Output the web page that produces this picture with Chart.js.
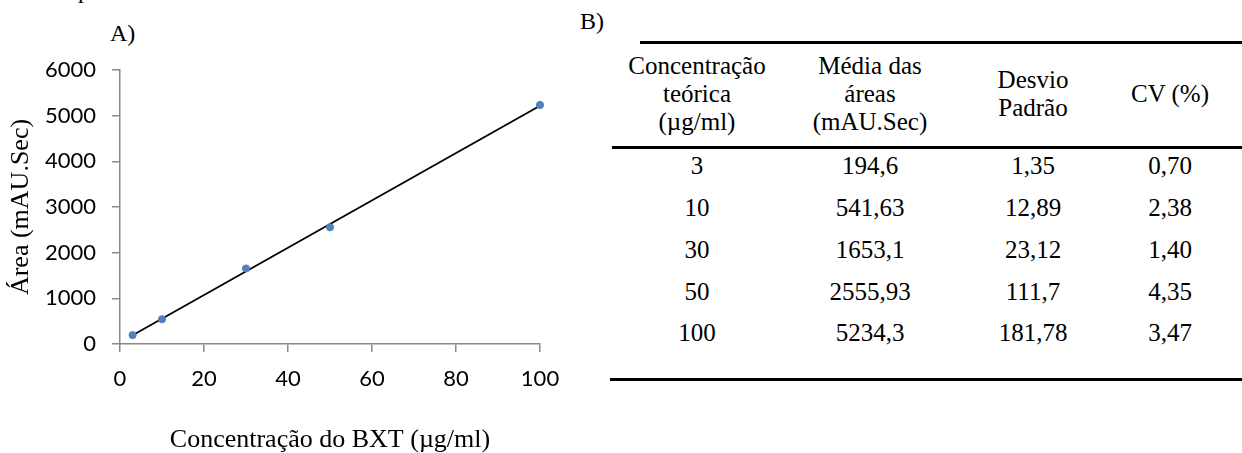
<!DOCTYPE html>
<html>
<head>
<meta charset="utf-8">
<script src="https://cdn.jsdelivr.net/npm/chart.js@4.4.1/dist/chart.umd.min.js"></script>
<style>
  html, body { margin: 0; padding: 0; background: #fff; }
  body { width: 1242px; height: 453px; position: relative; overflow: hidden; }
  #plot { position: absolute; left: 0; top: 0; }
  .serif { font-family: "Liberation Serif", "Times New Roman", serif; color: #000; position: absolute; white-space: nowrap; }
  .cell { transform: translate(-50%, -50%); text-align: center; line-height: 28px; font-size: 25px; }
  .rule { position: absolute; height: 3px; background: #000; }
</style>
</head>
<body>
<div class="serif" style="left:78px; top:-22px; font-size:24px; line-height:24px;">p</div>
<div class="serif" style="left:110px; top:20px; font-size:24px; line-height:26px;">A)</div>
<div class="serif" style="left:580px; top:8px; font-size:24px; line-height:26px;">B)</div>
<canvas id="plot" width="580" height="453"></canvas>
<div id="table"></div>
<script>
// Calibration curve: theoretical concentration (µg/ml) vs mean peak area (mAU.Sec)
const concentrations = [3, 10, 30, 50, 100];
const meanAreas = [194.6, 541.63, 1653.1, 2555.93, 5234.3];
const stdDevs = ['1,35', '12,89', '23,12', '111,7', '181,78'];
const cvPercent = ['0,70', '2,38', '1,40', '4,35', '3,47'];
const areaLabels = ['194,6', '541,63', '1653,1', '2555,93', '5234,3'];
const concLabels = ['3', '10', '30', '50', '100'];
const xTicks = [0, 20, 40, 60, 80, 100];
const yTicks = [0, 1000, 2000, 3000, 4000, 5000, 6000];
const headers = [
  ['Concentração', 'teórica', '(µg/ml)'],
  ['Média das', 'áreas', '(mAU.Sec)'],
  ['Desvio', 'Padrão'],
  ['CV (%)']
];

// least-squares linear trendline through the measured points
function linearFit(xs, ys) {
  const n = xs.length;
  const mx = xs.reduce((a, b) => a + b, 0) / n;
  const my = ys.reduce((a, b) => a + b, 0) / n;
  let sxy = 0, sxx = 0;
  for (let i = 0; i < n; i++) { sxy += (xs[i] - mx) * (ys[i] - my); sxx += (xs[i] - mx) ** 2; }
  const slope = sxy / sxx;
  return { slope, intercept: my - slope * mx };
}
const fit = linearFit(concentrations, meanAreas);
const xMin = concentrations[0], xMax = concentrations[concentrations.length - 1];
const trend = [
  { x: xMin, y: fit.intercept + fit.slope * xMin },
  { x: xMax, y: fit.intercept + fit.slope * xMax }
];
const points = concentrations.map((c, i) => ({ x: c, y: meanAreas[i] }));

const axisGrey = '#898989';
const tickFont = { family: 'Lato, "Open Sans", sans-serif', size: 22 };
const titleFont = { family: '"Liberation Serif", "Times New Roman", serif', size: 26, lineHeight: 1 };
const plainNumber = v => String(v);

new Chart(document.getElementById('plot'), {
  type: 'scatter',
  data: {
    datasets: [
      {
        type: 'line', data: trend, borderColor: '#000', borderWidth: 1.8,
        pointRadius: 0, fill: false, order: 2, clip: false
      },
      {
        data: points, backgroundColor: '#4F81BD', borderColor: '#4F81BD',
        pointRadius: 3.6, pointHoverRadius: 3.6, order: 1, clip: false
      }
    ]
  },
  options: {
    responsive: false,
    animation: false,
    events: [],
    layout: { padding: { left: 0, right: 40, top: 70, bottom: 0 } },
    plugins: { legend: { display: false }, tooltip: { enabled: false } },
    scales: {
      x: {
        type: 'linear', min: 0, max: 100,
        afterBuildTicks: s => { s.ticks = xTicks.map(v => ({ value: v })); },
        afterFit: s => { s.height = 109; },
        ticks: { color: '#000', font: tickFont, padding: 14, maxRotation: 0, callback: plainNumber },
        grid: { drawOnChartArea: false, drawTicks: true, tickLength: 8, color: axisGrey, lineWidth: 1.5 },
        border: { display: true, color: axisGrey, width: 1.5 },
        title: { display: true, text: 'Concentração do BXT (µg/ml)', color: '#000', font: titleFont, padding: { top: 0, bottom: 0 } }
      },
      y: {
        type: 'linear', min: 0, max: 6000,
        afterBuildTicks: s => { s.ticks = yTicks.map(v => ({ value: v })); },
        afterFit: s => { s.width = 120; },
        ticks: { color: '#000', font: tickFont, padding: 16, callback: plainNumber },
        grid: { drawOnChartArea: false, drawTicks: true, tickLength: 8, color: axisGrey, lineWidth: 1.5 },
        border: { display: true, color: axisGrey, width: 1.5 },
        title: { display: true, text: 'Área (mAU.Sec)', color: '#000', font: titleFont, padding: { top: 8, bottom: 0 } }
      }
    }
  }
});

// Table B: precision data laid out as centred cells between horizontal rules
const table = document.getElementById('table');
const colCenters = [697, 870, 1033, 1170];
const headerCenterY = 94;
const rowY = [166, 208, 250, 292, 333];
function addCell(text, cx, cy, lines) {
  const d = document.createElement('div');
  d.className = 'serif cell';
  d.style.left = cx + 'px';
  d.style.top = cy + 'px';
  d.innerHTML = lines ? lines.join('<br>') : text;
  table.appendChild(d);
}
headers.forEach((h, i) => addCell(null, colCenters[i], headerCenterY, h));
const rows = concLabels.map((c, i) => [c, areaLabels[i], stdDevs[i], cvPercent[i]]);
rows.forEach((r, ri) => r.forEach((t, ci) => addCell(t, colCenters[ci], rowY[ri])));
[[640, 41], [612, 146], [610, 378]].forEach(([x, y]) => {
  const r = document.createElement('div');
  r.className = 'rule';
  r.style.left = x + 'px';
  r.style.top = y + 'px';
  r.style.width = (1242 - x) + 'px';
  table.appendChild(r);
});
</script>
</body>
</html>
